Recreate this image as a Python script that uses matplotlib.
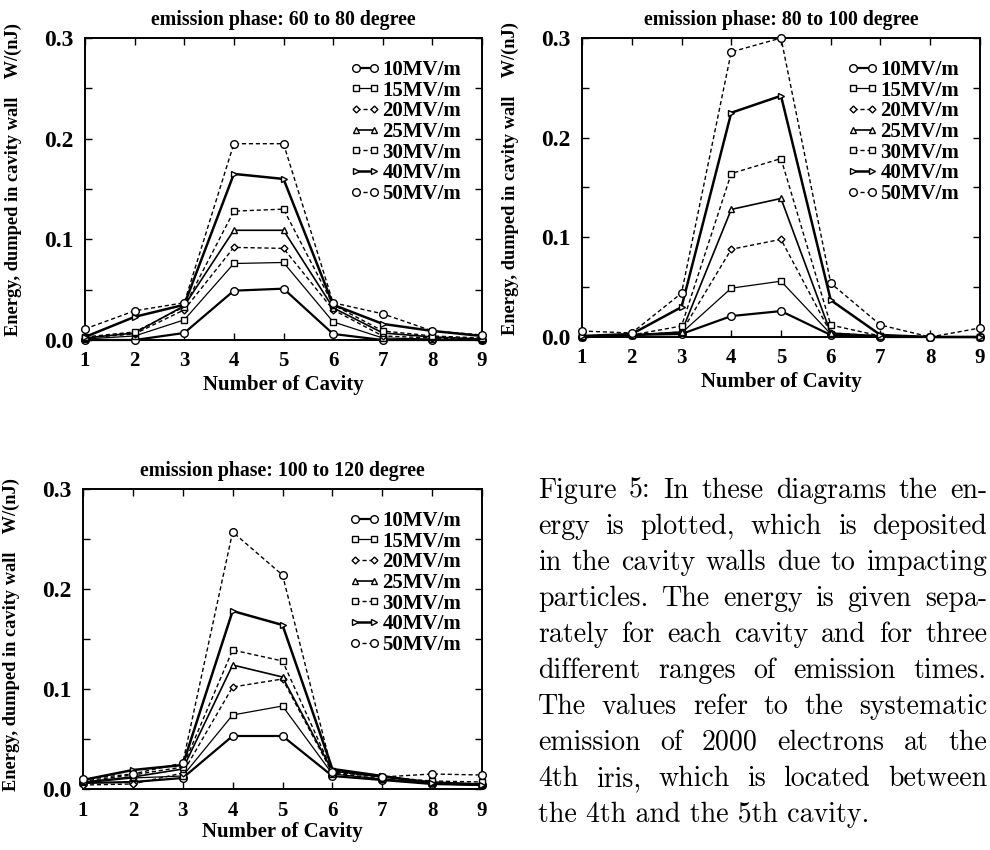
import matplotlib
matplotlib.use("Agg")
import matplotlib.pyplot as plt
from matplotlib.ticker import MultipleLocator, FixedLocator

# ---------------- data ----------------
cavities = [1, 2, 3, 4, 5, 6, 7, 8, 9]
fields = ["10MV/m", "15MV/m", "20MV/m", "25MV/m", "30MV/m", "40MV/m", "50MV/m"]

titles = ["emission phase: 60 to 80 degree",
          "emission phase: 80 to 100 degree",
          "emission phase: 100 to 120 degree"]

# panel 1: 60 to 80 degree
p1_10 = [0.000, 0.000, 0.007, 0.049, 0.051, 0.006, 0.000, 0.000, 0.000]
p1_15 = [0.001, 0.004, 0.020, 0.076, 0.077, 0.018, 0.002, 0.001, 0.000]
p1_20 = [0.002, 0.006, 0.030, 0.092, 0.091, 0.030, 0.004, 0.002, 0.001]
p1_25 = [0.002, 0.007, 0.034, 0.109, 0.109, 0.032, 0.007, 0.003, 0.001]
p1_30 = [0.003, 0.008, 0.033, 0.128, 0.130, 0.035, 0.009, 0.004, 0.002]
p1_40 = [0.003, 0.023, 0.035, 0.165, 0.160, 0.035, 0.016, 0.009, 0.004]
p1_50 = [0.011, 0.029, 0.037, 0.195, 0.195, 0.037, 0.026, 0.009, 0.005]

# panel 2: 80 to 100 degree
p2_10 = [0.000, 0.002, 0.003, 0.021, 0.026, 0.002, 0.000, 0.000, 0.000]
p2_15 = [0.000, 0.002, 0.004, 0.049, 0.056, 0.003, 0.001, 0.000, 0.000]
p2_20 = [0.001, 0.002, 0.005, 0.088, 0.098, 0.004, 0.001, 0.000, 0.000]
p2_25 = [0.000, 0.002, 0.005, 0.128, 0.139, 0.004, 0.001, 0.000, 0.000]
p2_30 = [0.001, 0.002, 0.011, 0.164, 0.179, 0.012, 0.001, 0.000, 0.000]
p2_40 = [0.001, 0.003, 0.030, 0.225, 0.242, 0.037, 0.002, 0.000, 0.000]
p2_50 = [0.006, 0.004, 0.044, 0.286, 0.300, 0.054, 0.012, 0.000, 0.009]

# panel 3: 100 to 120 degree
p3_10 = [0.006, 0.007, 0.011, 0.053, 0.053, 0.013, 0.009, 0.005, 0.004]
p3_15 = [0.006, 0.011, 0.013, 0.074, 0.083, 0.015, 0.010, 0.006, 0.004]
p3_20 = [0.004, 0.005, 0.016, 0.102, 0.110, 0.016, 0.010, 0.006, 0.005]
p3_25 = [0.007, 0.012, 0.020, 0.124, 0.112, 0.018, 0.012, 0.007, 0.005]
p3_30 = [0.008, 0.014, 0.022, 0.139, 0.128, 0.018, 0.012, 0.008, 0.007]
p3_40 = [0.009, 0.019, 0.024, 0.178, 0.164, 0.020, 0.013, 0.006, 0.004]
p3_50 = [0.010, 0.015, 0.026, 0.257, 0.214, 0.017, 0.012, 0.015, 0.014]

panels = [
    [p1_10, p1_15, p1_20, p1_25, p1_30, p1_40, p1_50],
    [p2_10, p2_15, p2_20, p2_25, p2_30, p2_40, p2_50],
    [p3_10, p3_15, p3_20, p3_25, p3_30, p3_40, p3_50],
]

yticks = [0.0, 0.1, 0.2, 0.3]
ytick_labels = ["0.0", "0.1", "0.2", "0.3"]

caption = [
    "Figure 5: In these diagrams the en-",
    "ergy is plotted, which is deposited",
    "in the cavity walls due to impacting",
    "particles. The energy is given sepa-",
    "rately for each cavity and for three",
    "different ranges of emission times.",
    "The values refer to the systematic",
    "emission of 2000 electrons at the",
    "4th iris, which is located between",
    "the 4th and the 5th cavity.",
]

# ---------------- styles ----------------
styles = [
    dict(marker="o", ls="-", lw=1.6, ms=5.5),
    dict(marker="s", ls="-", lw=0.9, ms=4.5),
    dict(marker="D", ls=(0, (3, 2)), lw=1.0, ms=3.5),
    dict(marker="^", ls="-", lw=1.2, ms=4.5),
    dict(marker="s", ls=(0, (3, 2)), lw=1.0, ms=4.5),
    dict(marker=">", ls="-", lw=1.8, ms=5.0),
    dict(marker="o", ls=(0, (3, 2)), lw=1.0, ms=5.5),
]

W, H = 990, 850
fig = plt.figure(figsize=(W / 100, H / 100), dpi=100)
serif = ["Liberation Serif", "DejaVu Serif"]

def px_axes(l, r, t, b):
    return fig.add_axes([l / W, (H - b) / H, (r - l) / W, (b - t) / H])

rects = [(85, 482, 38, 340), (582, 980, 38, 337), (83, 482, 489, 789)]
ylab_y = [0.53, 0.53, 0.515]
xlab_pad = [3, 3, 0]
xtick_pad = [8, 8, 9]

for idx, (rect, series) in enumerate(zip(rects, panels)):
    ax = px_axes(*rect)
    for vals, st, lab in zip(series, styles, fields):
        ax.plot(cavities, vals, color="black", marker=st["marker"], ls=st["ls"],
                lw=st["lw"], ms=st["ms"], mfc="white", mec="black", mew=1.0,
                label=lab, clip_on=False, zorder=3)
    ax.set_xlim(1, 9)
    ax.set_ylim(0, 0.3)
    ax.xaxis.set_major_locator(FixedLocator(cavities))
    ax.set_yticks(yticks)
    ax.set_yticklabels(ytick_labels)
    ax.yaxis.set_minor_locator(MultipleLocator(0.05))
    ax.tick_params(which="both", direction="in", top=True, right=True,
                   length=5, width=1.0)
    ax.tick_params(axis="y", labelsize=17, pad=8)
    ax.tick_params(axis="x", labelsize=15, pad=xtick_pad[idx])
    for lab in ax.get_xticklabels() + ax.get_yticklabels():
        lab.set_fontfamily(serif)
        lab.set_fontweight("bold")
    for sp in ax.spines.values():
        sp.set_linewidth(1.4)
    ax.set_title(titles[idx], fontsize=14.3, fontweight="bold",
                 family=serif, pad=9)
    ax.set_xlabel("Number of Cavity", fontsize=15, fontweight="bold",
                  family=serif, labelpad=xlab_pad[idx])
    ax.set_ylabel("Energy, dumped in cavity wall    W/(nJ)", fontsize=13.2,
                  fontweight="bold", family=serif)
    ax.yaxis.set_label_coords(-0.158, ylab_y[idx])
    leg = ax.legend(loc="upper right", bbox_to_anchor=(0.985, 0.975),
                    frameon=False, numpoints=2, handlelength=1.5,
                    handletextpad=0.1, labelspacing=0.03, borderaxespad=0.3,
                    prop=dict(family=serif, weight="bold", size=15))

# ---------------- caption (justified) ----------------
cap_left, cap_right = 538, 987
base0, step = 498, 36.0
cap_font = ["cmr10", "DejaVu Serif"]
renderer = fig.canvas.get_renderer()

def width_of(s, size):
    t = fig.text(0, 0, s, family=cap_font, fontsize=size)
    w = t.get_window_extent(renderer).width
    t.remove()
    return w

ref_size = 12.0
nat = [width_of(line, ref_size) for line in caption[:-1]]
cap_size = ref_size * (cap_right - cap_left) / max(nat) * 0.985

for k, line in enumerate(caption):
    y = (H - (base0 + step * k)) / H
    words = line.split(" ")
    if k == len(caption) - 1:
        fig.text(cap_left / W, y, line, family=cap_font, fontsize=cap_size,
                 va="baseline", ha="left")
        continue
    widths = [width_of(wd, cap_size) for wd in words]
    gap = ((cap_right - cap_left) - sum(widths)) / (len(words) - 1)
    x = cap_left
    for wd, wdt in zip(words, widths):
        fig.text(x / W, y, wd, family=cap_font, fontsize=cap_size,
                 va="baseline", ha="left")
        x += wdt + gap

fig.savefig("out.png", dpi=100)
